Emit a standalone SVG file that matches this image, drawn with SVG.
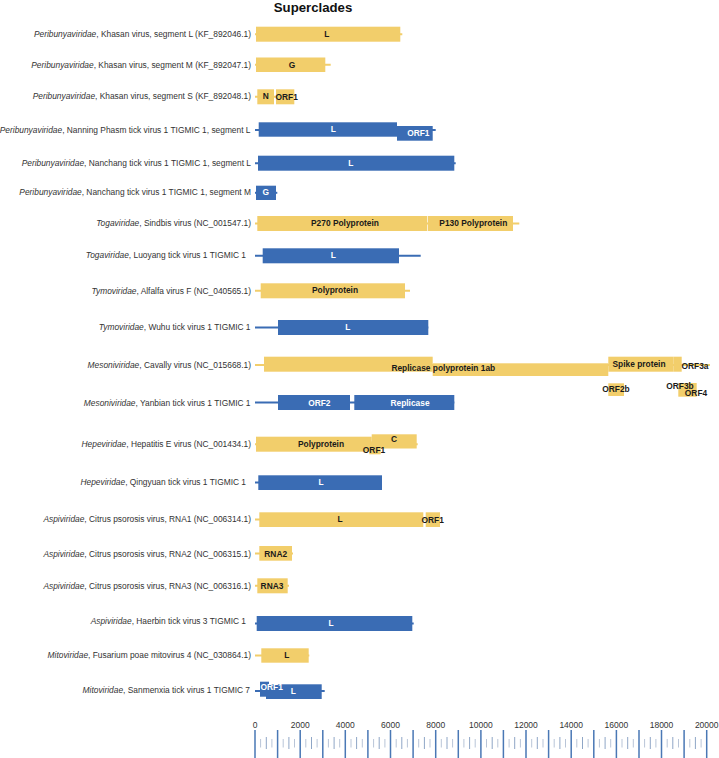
<svg xmlns="http://www.w3.org/2000/svg" width="719" height="758" viewBox="0 0 719 758">
<style>
.lab{font-family:"Liberation Sans",Arial,sans-serif;font-size:8.4px;fill:#333;text-anchor:end}
.lab tspan.it{font-style:italic}
.y{fill:#F2CE6B}
.b{fill:#3A6CB4}
.yl{stroke:#F2CE6B;stroke-width:2}
.bl{stroke:#3A6CB4;stroke-width:2}
.ty{font-family:"Liberation Sans",Arial,sans-serif;font-size:8.4px;font-weight:bold;fill:#1a1a1a;text-anchor:middle}
.tb{font-family:"Liberation Sans",Arial,sans-serif;font-size:8.4px;font-weight:bold;fill:#ffffff;text-anchor:middle}
.title{font-family:"Liberation Sans",Arial,sans-serif;font-size:13.2px;font-weight:bold;fill:#111;text-anchor:middle}
.ax{font-family:"Liberation Sans",Arial,sans-serif;font-size:8.5px;fill:#333;text-anchor:middle}
.maj{stroke:#4A78B5;stroke-width:1.5}
.min{stroke:#B9C5D8;stroke-width:1}
.mid{stroke:#8FA6C6;stroke-width:1}
</style>
<rect width="719" height="758" fill="#fff"/>
<text class="title" x="313" y="11.5">Superclades</text>

<g id="connectors">
<line class="yl" x1="255" y1="34.2" x2="402.3" y2="34.2"/>
<line class="yl" x1="255" y1="64.7" x2="330.7" y2="64.7"/>
<line class="yl" x1="255" y1="96.8" x2="294" y2="96.8"/>
<line class="bl" x1="255" y1="130" x2="435.7" y2="130"/>
<line class="bl" x1="255" y1="163.2" x2="455.7" y2="163.2"/>
<line class="bl" x1="255" y1="192.8" x2="277.3" y2="192.8"/>
<line class="yl" x1="255" y1="223.5" x2="519.3" y2="223.5"/>
<line class="bl" x1="255" y1="255.8" x2="420.7" y2="255.8"/>
<line class="yl" x1="255" y1="290.8" x2="410" y2="290.8"/>
<line class="bl" x1="255" y1="327.5" x2="428.3" y2="327.5"/>
<line class="yl" x1="255" y1="365" x2="710" y2="365"/>
<line class="bl" x1="255" y1="402.5" x2="454.3" y2="402.5"/>
<line class="yl" x1="255" y1="444.2" x2="417.7" y2="444.2"/>
<line class="bl" x1="255" y1="482.6" x2="382" y2="482.6"/>
<line class="yl" x1="255" y1="519.6" x2="440" y2="519.6"/>
<line class="yl" x1="255" y1="553.4" x2="293" y2="553.4"/>
<line class="yl" x1="255" y1="585.8" x2="289" y2="585.8"/>
<line class="bl" x1="255" y1="623.5" x2="413.7" y2="623.5"/>
<line class="yl" x1="255" y1="655.5" x2="309.3" y2="655.5"/>
<line class="bl" x1="255" y1="691" x2="324.7" y2="691"/>
</g>

<g id="row1">
<text class="lab" x="251" y="37"><tspan class="it">Peribunyaviridae</tspan>, Khasan virus, segment L (KF_892046.1)</text>
<rect class="y" x="256" y="26.7" width="144.3" height="15"/>
<text class="ty" x="326.7" y="37">L</text>
</g>
<g id="row2">
<text class="lab" x="251" y="67.5"><tspan class="it">Peribunyaviridae</tspan>, Khasan virus, segment M (KF_892047.1)</text>
<rect class="y" x="256" y="57.5" width="69.3" height="14.5"/>
<text class="ty" x="292" y="67.5">G</text>
</g>
<g id="row3">
<text class="lab" x="251" y="99.3"><tspan class="it">Peribunyaviridae</tspan>, Khasan virus, segment S (KF_892048.1)</text>
<rect class="y" x="257.3" y="89.3" width="16.7" height="15"/>
<rect class="y" x="276" y="89.3" width="18.3" height="15"/>
<text class="ty" x="265.7" y="99">N</text>
<text class="ty" x="286.7" y="100">ORF1</text>
</g>
<g id="row4">
<text class="lab" x="250.5" y="133"><tspan class="it">Peribunyaviridae</tspan>, Nanning Phasm tick virus 1 TIGMIC 1, segment L</text>
<rect class="b" x="258.7" y="122.3" width="138.3" height="14.4"/>
<rect class="b" x="397" y="126" width="35.7" height="14.7"/>
<text class="tb" x="333.3" y="132">L</text>
<text class="tb" x="418.3" y="135.7">ORF1</text>
</g>
<g id="row5">
<text class="lab" x="251" y="166.3"><tspan class="it">Peribunyaviridae</tspan>, Nanchang tick virus 1 TIGMIC 1, segment L</text>
<rect class="b" x="258" y="155.7" width="196.3" height="15"/>
<text class="tb" x="350.7" y="166">L</text>
</g>
<g id="row6">
<text class="lab" x="251" y="195.3"><tspan class="it">Peribunyaviridae</tspan>, Nanchang tick virus 1 TIGMIC 1, segment M</text>
<rect class="b" x="256" y="185.7" width="20" height="14.3"/>
<text class="tb" x="265.7" y="195">G</text>
</g>
<g id="row7">
<text class="lab" x="251" y="226.3"><tspan class="it">Togaviridae</tspan>, Sindbis virus (NC_001547.1)</text>
<rect class="y" x="257.3" y="216" width="170" height="15"/>
<rect class="y" x="428" y="216" width="85" height="15"/>
<text class="ty" x="345" y="226">P270 Polyprotein</text>
<text class="ty" x="473.3" y="226">P130 Polyprotein</text>
</g>
<g id="row8">
<text class="lab" x="246" y="258"><tspan class="it">Togaviridae</tspan>, Luoyang tick virus 1 TIGMIC 1</text>
<rect class="b" x="262.7" y="248.3" width="136.3" height="15"/>
<text class="tb" x="333.3" y="258">L</text>
</g>
<g id="row9">
<text class="lab" x="251" y="293.7"><tspan class="it">Tymoviridae</tspan>, Alfalfa virus F (NC_040565.1)</text>
<rect class="y" x="260.7" y="283.3" width="144.3" height="15"/>
<text class="ty" x="335" y="293">Polyprotein</text>
</g>
<g id="row10">
<text class="lab" x="250.5" y="330.3"><tspan class="it">Tymoviridae</tspan>, Wuhu tick virus 1 TIGMIC 1</text>
<rect class="b" x="278" y="320" width="150.3" height="15"/>
<text class="tb" x="347.7" y="330">L</text>
</g>
<g id="row11">
<text class="lab" x="251" y="368"><tspan class="it">Mesoniviridae</tspan>, Cavally virus (NC_015668.1)</text>
<rect class="y" x="264" y="356.7" width="168.7" height="15"/>
<rect class="y" x="432.7" y="363.3" width="175.6" height="12.7"/>
<rect class="y" x="608.3" y="356.7" width="65" height="15"/>
<rect class="y" x="673.3" y="356.7" width="8.4" height="15"/>
<rect class="y" x="608.3" y="383.3" width="15.7" height="12.7"/>
<rect class="y" x="678.3" y="383" width="18.4" height="13.7"/>
<text class="ty" x="443.3" y="371.3">Replicase polyprotein 1ab</text>
<text class="ty" x="639" y="367.3">Spike protein</text>
<text class="ty" x="695" y="368.7">ORF3a</text>
<text class="ty" x="616" y="392">ORF2b</text>
<text class="ty" x="680" y="388.7">ORF3b</text>
<text class="ty" x="696" y="396.3">ORF4</text>
</g>
<g id="row12">
<text class="lab" x="250.5" y="405.5"><tspan class="it">Mesoniviridae</tspan>, Yanbian tick virus 1 TIGMIC 1</text>
<rect class="b" x="278" y="395" width="72" height="15"/>
<rect class="b" x="354.3" y="395" width="100" height="15"/>
<text class="tb" x="319.3" y="405.5">ORF2</text>
<text class="tb" x="410" y="405.5">Replicase</text>
</g>
<g id="row13">
<text class="lab" x="251" y="447.3"><tspan class="it">Hepeviridae</tspan>, Hepatitis E virus (NC_001434.1)</text>
<rect class="y" x="256" y="436.7" width="115.7" height="15"/>
<rect class="y" x="371.7" y="434.3" width="45" height="14.2"/>
<rect class="y" x="369.3" y="441.5" width="11.4" height="12.8"/>
<text class="ty" x="321" y="447.3">Polyprotein</text>
<text class="ty" x="394" y="441.7">C</text>
<text class="ty" x="374" y="453">ORF1</text>
</g>
<g id="row14">
<text class="lab" x="246" y="484.7"><tspan class="it">Hepeviridae</tspan>, Qingyuan tick virus 1 TIGMIC 1</text>
<rect class="b" x="258.3" y="475.3" width="123.7" height="14.7"/>
<text class="tb" x="321" y="485">L</text>
</g>
<g id="row15">
<text class="lab" x="251" y="522"><tspan class="it">Aspiviridae</tspan>, Citrus psorosis virus, RNA1 (NC_006314.1)</text>
<rect class="y" x="259.3" y="512.3" width="164" height="14.7"/>
<rect class="y" x="425.7" y="512.3" width="14.3" height="14.7"/>
<text class="ty" x="340" y="522">L</text>
<text class="ty" x="432.7" y="523">ORF1</text>
</g>
<g id="row16">
<text class="lab" x="251" y="557"><tspan class="it">Aspiviridae</tspan>, Citrus psorosis virus, RNA2 (NC_006315.1)</text>
<rect class="y" x="259.3" y="546" width="32.7" height="14.7"/>
<text class="ty" x="275.7" y="557">RNA2</text>
</g>
<g id="row17">
<text class="lab" x="251" y="588.7"><tspan class="it">Aspiviridae</tspan>, Citrus psorosis virus, RNA3 (NC_006316.1)</text>
<rect class="y" x="257.3" y="578.3" width="30.4" height="15"/>
<text class="ty" x="272" y="588.7">RNA3</text>
</g>
<g id="row18">
<text class="lab" x="246" y="624"><tspan class="it">Aspiviridae</tspan>, Haerbin tick virus 3 TIGMIC 1</text>
<rect class="b" x="256.7" y="616" width="155.6" height="15"/>
<text class="tb" x="331" y="626">L</text>
</g>
<g id="row19">
<text class="lab" x="251" y="658"><tspan class="it">Mitoviridae</tspan>, Fusarium poae mitovirus 4 (NC_030864.1)</text>
<rect class="y" x="261.3" y="648.3" width="47.4" height="14.4"/>
<text class="ty" x="286.7" y="658">L</text>
</g>
<g id="row20">
<text class="lab" x="250" y="693"><tspan class="it">Mitoviridae</tspan>, Sanmenxia tick virus 1 TIGMIC 7</text>
<rect class="b" x="260" y="681.7" width="9" height="15"/>
<rect class="b" x="266" y="684.3" width="55.7" height="14.7"/>
<text class="tb" x="271.7" y="689.7">ORF1</text>
<text class="tb" x="293.3" y="694">L</text>
</g>

<g id="axis">
<g class="ax">
<text x="255" y="727.5">0</text>
<text x="300.2" y="727.5">2000</text>
<text x="345.3" y="727.5">4000</text>
<text x="390.5" y="727.5">6000</text>
<text x="435.7" y="727.5">8000</text>
<text x="480.9" y="727.5">10000</text>
<text x="526" y="727.5">12000</text>
<text x="571.2" y="727.5">14000</text>
<text x="616.4" y="727.5">16000</text>
<text x="661.5" y="727.5">18000</text>
<text x="706.7" y="727.5">20000</text>
</g>
<g id="ticks">
<path class="maj" d="M255 730V758M277.6 730V758M300.2 730V758M322.8 730V758M345.3 730V758M367.9 730V758M390.5 730V758M413.1 730V758M435.7 730V758M458.3 730V758M480.9 730V758M503.4 730V758M526 730V758M548.6 730V758M571.2 730V758M593.8 730V758M616.4 730V758M639 730V758M661.5 730V758M684.1 730V758M706.7 730V758"/>
<path class="min" d="M260.6 739V747.5M271.9 739V747.5M283.2 739V747.5M294.5 739V747.5M305.8 739V747.5M317.1 739V747.5M328.4 739V747.5M339.7 739V747.5M351 739V747.5M362.3 739V747.5M373.6 739V747.5M384.9 739V747.5M396.2 739V747.5M407.4 739V747.5M418.7 739V747.5M430 739V747.5M441.3 739V747.5M452.6 739V747.5M463.9 739V747.5M475.2 739V747.5M486.5 739V747.5M497.8 739V747.5M509.1 739V747.5M520.4 739V747.5M531.7 739V747.5M543 739V747.5M554.2 739V747.5M565.5 739V747.5M576.8 739V747.5M588.1 739V747.5M599.4 739V747.5M610.7 739V747.5M622 739V747.5M633.3 739V747.5M644.6 739V747.5M655.9 739V747.5M667.2 739V747.5M678.5 739V747.5M689.8 739V747.5M701.1 739V747.5"/>
<path class="mid" d="M266.3 737V749M288.9 737V749M311.5 737V749M334.1 737V749M356.6 737V749M379.2 737V749M401.8 737V749M424.4 737V749M447 737V749M469.6 737V749M492.2 737V749M514.7 737V749M537.3 737V749M559.9 737V749M582.5 737V749M605.1 737V749M627.7 737V749M650.3 737V749M672.8 737V749M695.4 737V749"/>
</g>
</g>
</svg>
